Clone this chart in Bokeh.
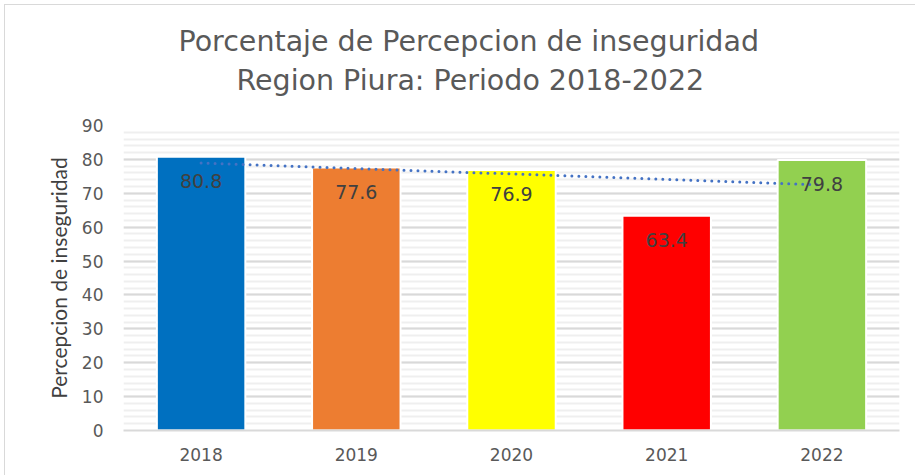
from bokeh.plotting import figure
from bokeh.models import Range1d, SingleIntervalTicker, Title, ColumnDataSource
from bokeh.core.properties import value
from bokeh.embed import file_html
from bokeh.resources import INLINE
import numpy as np

years = ["2018", "2019", "2020", "2021", "2022"]
values = [80.8, 77.6, 76.9, 63.4, 79.8]
colors = ["#0070c0", "#ed7d31", "#ffff00", "#ff0000", "#92d050"]
labels = ["80.8", "77.6", "76.9", "63.4", "79.8"]
title1 = "Porcentaje de Percepcion de inseguridad"
title2 = "Region Piura: Periodo 2018-2022"
ylabel = "Percepcion de inseguridad"

# linear trend of the series
idx = np.arange(1, len(values) + 1)
slope, intercept = np.polyfit(idx, values, 1)
trend = [slope * i + intercept for i in idx]

p = figure(x_range=years, y_range=Range1d(0, 90), width=911, height=471,
           output_backend="svg", toolbar_location=None,
           min_border_left=118, min_border_right=17, min_border_top=120,
           min_border_bottom=46)
p.outline_line_color = None
p.background_fill_color = "white"
p.styles = {"margin-left": "4px", "margin-top": "4px",
            "border-top": "1px solid #d9d9d9", "border-left": "1px solid #d9d9d9"}

p.yaxis.ticker = SingleIntervalTicker(interval=10, num_minor_ticks=5)
p.ygrid.grid_line_color = "#d9d9d9"
p.ygrid.grid_line_width = 2
p.ygrid.minor_grid_line_color = "#efefef"
p.ygrid.minor_grid_line_width = 2
p.xgrid.grid_line_color = None

p.yaxis.axis_line_color = None
p.yaxis.major_tick_line_color = None
p.yaxis.minor_tick_line_color = None
p.yaxis.major_tick_out = 0
p.yaxis.minor_tick_out = 0
p.yaxis.major_label_standoff = 20
p.yaxis.major_label_text_font = "DejaVu Sans"
p.yaxis.major_label_text_font_size = "17px"
p.yaxis.major_label_text_color = "#595959"
p.yaxis.axis_label = ylabel
p.yaxis.axis_label_text_font = "Lato"
p.yaxis.axis_label_text_font_style = "normal"
p.yaxis.axis_label_text_font_size = "21px"
p.yaxis.axis_label_text_color = "#404040"
p.yaxis.axis_label_standoff = 8

p.xaxis.axis_line_color = "#d9d9d9"
p.xaxis.axis_line_width = 2
p.xaxis.major_tick_line_color = None
p.xaxis.minor_tick_line_color = None
p.xaxis.major_tick_out = 0
p.xaxis.major_label_standoff = 17
p.xaxis.major_label_text_font = "DejaVu Sans"
p.xaxis.major_label_text_font_size = "17px"
p.xaxis.major_label_text_color = "#595959"

src = ColumnDataSource(dict(x=years, top=values, color=colors, label=labels, trend=trend))
p.vbar(x="x", top="top", width=0.57, fill_color="color", line_color="white",
       line_width=2, source=src)
p.line(x="x", y="trend", source=src, line_color="#4472c4", line_width=3,
       line_dash="0 7", line_cap="round")
p.text(x="x", y="top", text="label", source=src, y_offset=24,
       text_align="center", text_baseline="middle", text_color="#404040",
       text_font=value("DejaVu Sans"), text_font_size="19px")

p.add_layout(Title(text=title2, align="left", offset=113, standoff=58,
                   text_font="DejaVu Sans", text_font_size="28.5px", text_font_style="normal",
                   text_color="#595959"), "above")
p.add_layout(Title(text=title1, align="left", offset=55, standoff=-50,
                   text_font="DejaVu Sans", text_font_size="28.5px", text_font_style="normal",
                   text_color="#595959"), "above")

open("out.html", "w").write(file_html(p, INLINE))
